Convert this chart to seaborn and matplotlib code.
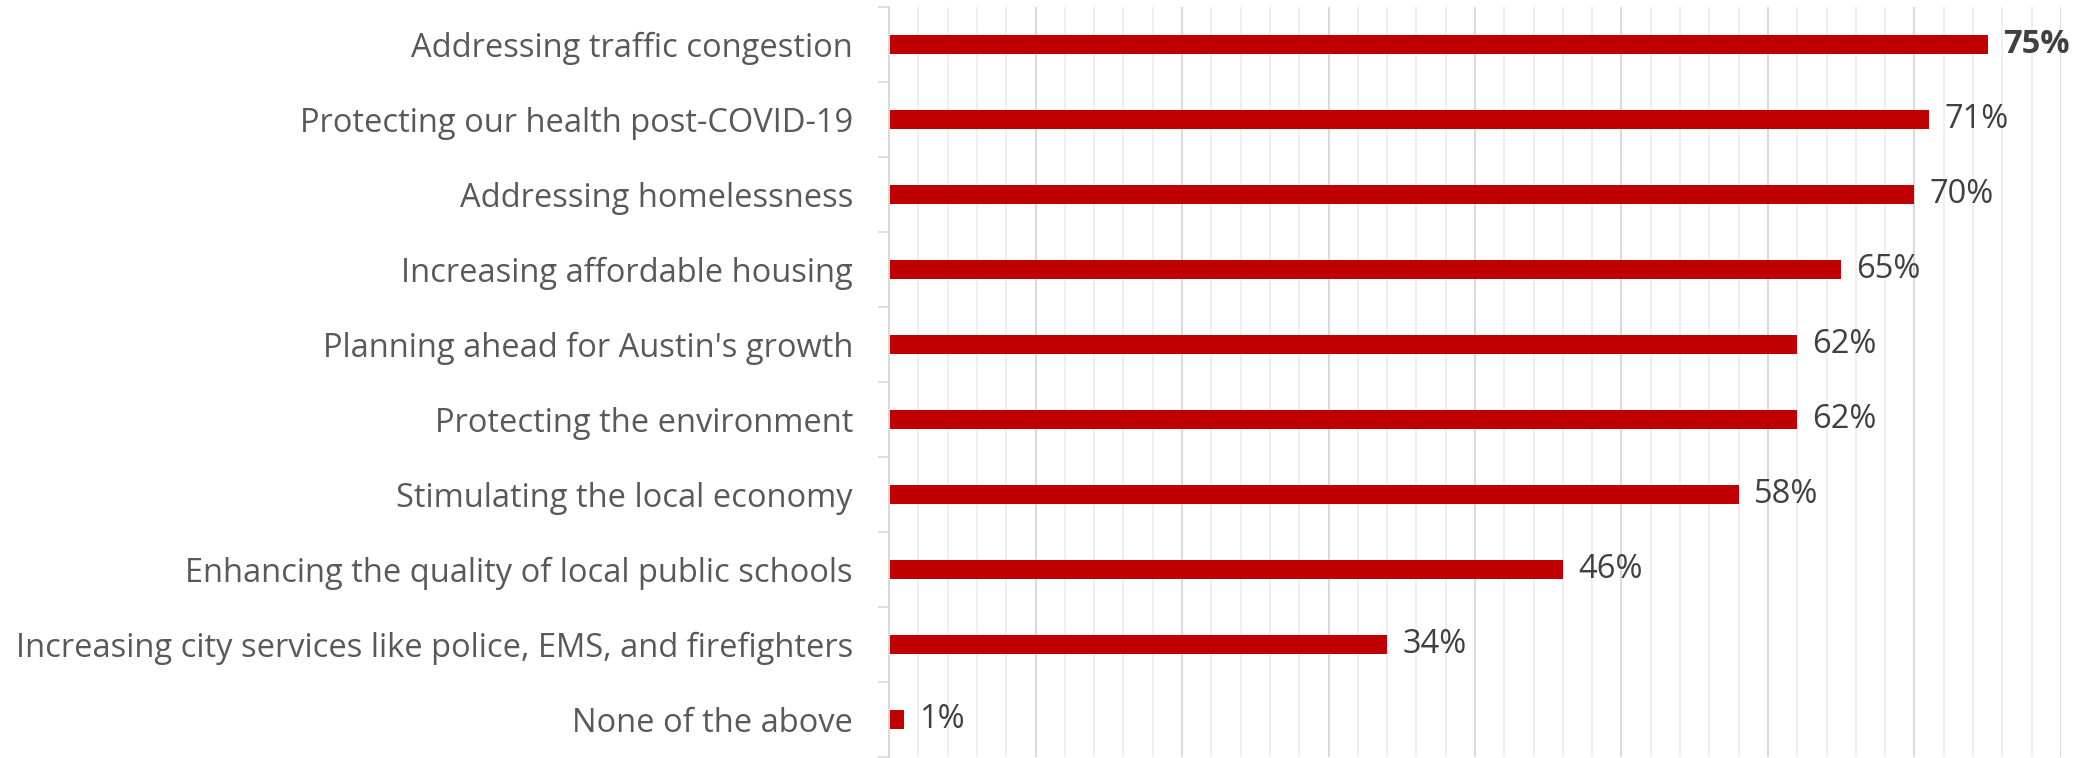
import matplotlib
matplotlib.use("Agg")
import matplotlib.pyplot as plt
import seaborn as sns
import pandas as pd
import numpy as np
from matplotlib.ticker import MultipleLocator

# Survey results: share of respondents choosing each priority
categories = [
    "Addressing traffic congestion",
    "Protecting our health post-COVID-19",
    "Addressing homelessness",
    "Increasing affordable housing",
    "Planning ahead for Austin's growth",
    "Protecting the environment",
    "Stimulating the local economy",
    "Enhancing the quality of local public schools",
    "Increasing city services like police, EMS, and firefighters",
    "None of the above",
]
values = [75, 71, 70, 65, 62, 62, 58, 46, 34, 1]
value_labels = ["75%", "71%", "70%", "65%", "62%", "62%", "58%", "46%", "34%", "1%"]

df = pd.DataFrame({"category": categories, "value": values})

sns.set_theme(style="white")
plt.rcParams["font.family"] = ["Open Sans", "DejaVu Sans"]

FS = 23.5

fig = plt.figure(figsize=(20.87, 7.58), dpi=100)
ax = fig.add_axes([0.426, 0.001, 0.5615, 0.9898])

sns.barplot(data=df, x="value", y="category", orient="h", color="#C00000",
            saturation=1, width=0.25, linewidth=0, ax=ax)

ax.set_xlim(0, 80)
ax.set_ylim(len(categories) - 0.5, -0.5)

# light grid: major every 10 points, minor every 2
ax.xaxis.set_major_locator(MultipleLocator(10))
ax.xaxis.set_minor_locator(MultipleLocator(2))
ax.grid(axis="x", which="major", color="#d9d9d9", linewidth=1.4)
ax.grid(axis="x", which="minor", color="#efefef", linewidth=1.4)
ax.set_axisbelow(True)
ax.tick_params(axis="x", which="both", bottom=False, labelbottom=False)

# category labels at centers, tick marks at category boundaries
ax.set_yticks(np.arange(len(categories)))
ax.set_yticklabels(categories)
ax.set_yticks(np.arange(len(categories) + 1) - 0.5, minor=True)
ax.tick_params(axis="y", which="major", length=0, pad=26, labelsize=FS,
               labelcolor="#595959")
ax.tick_params(axis="y", which="minor", length=8, width=1.2, color="#d9d9d9",
               left=True)

for s in ["top", "right", "bottom"]:
    ax.spines[s].set_visible(False)
ax.spines["left"].set_color("#d9d9d9")
ax.spines["left"].set_linewidth(1.4)

ax.set_xlabel("")
ax.set_ylabel("")

for i, (v, lab) in enumerate(zip(values, value_labels)):
    ax.annotate(lab, xy=(v, i), xytext=(11, 0), textcoords="offset points",
                ha="left", va="center", fontsize=FS, color="#404040",
                fontweight="bold" if i == 0 else "normal")

fig.savefig("out.png", dpi=100)
